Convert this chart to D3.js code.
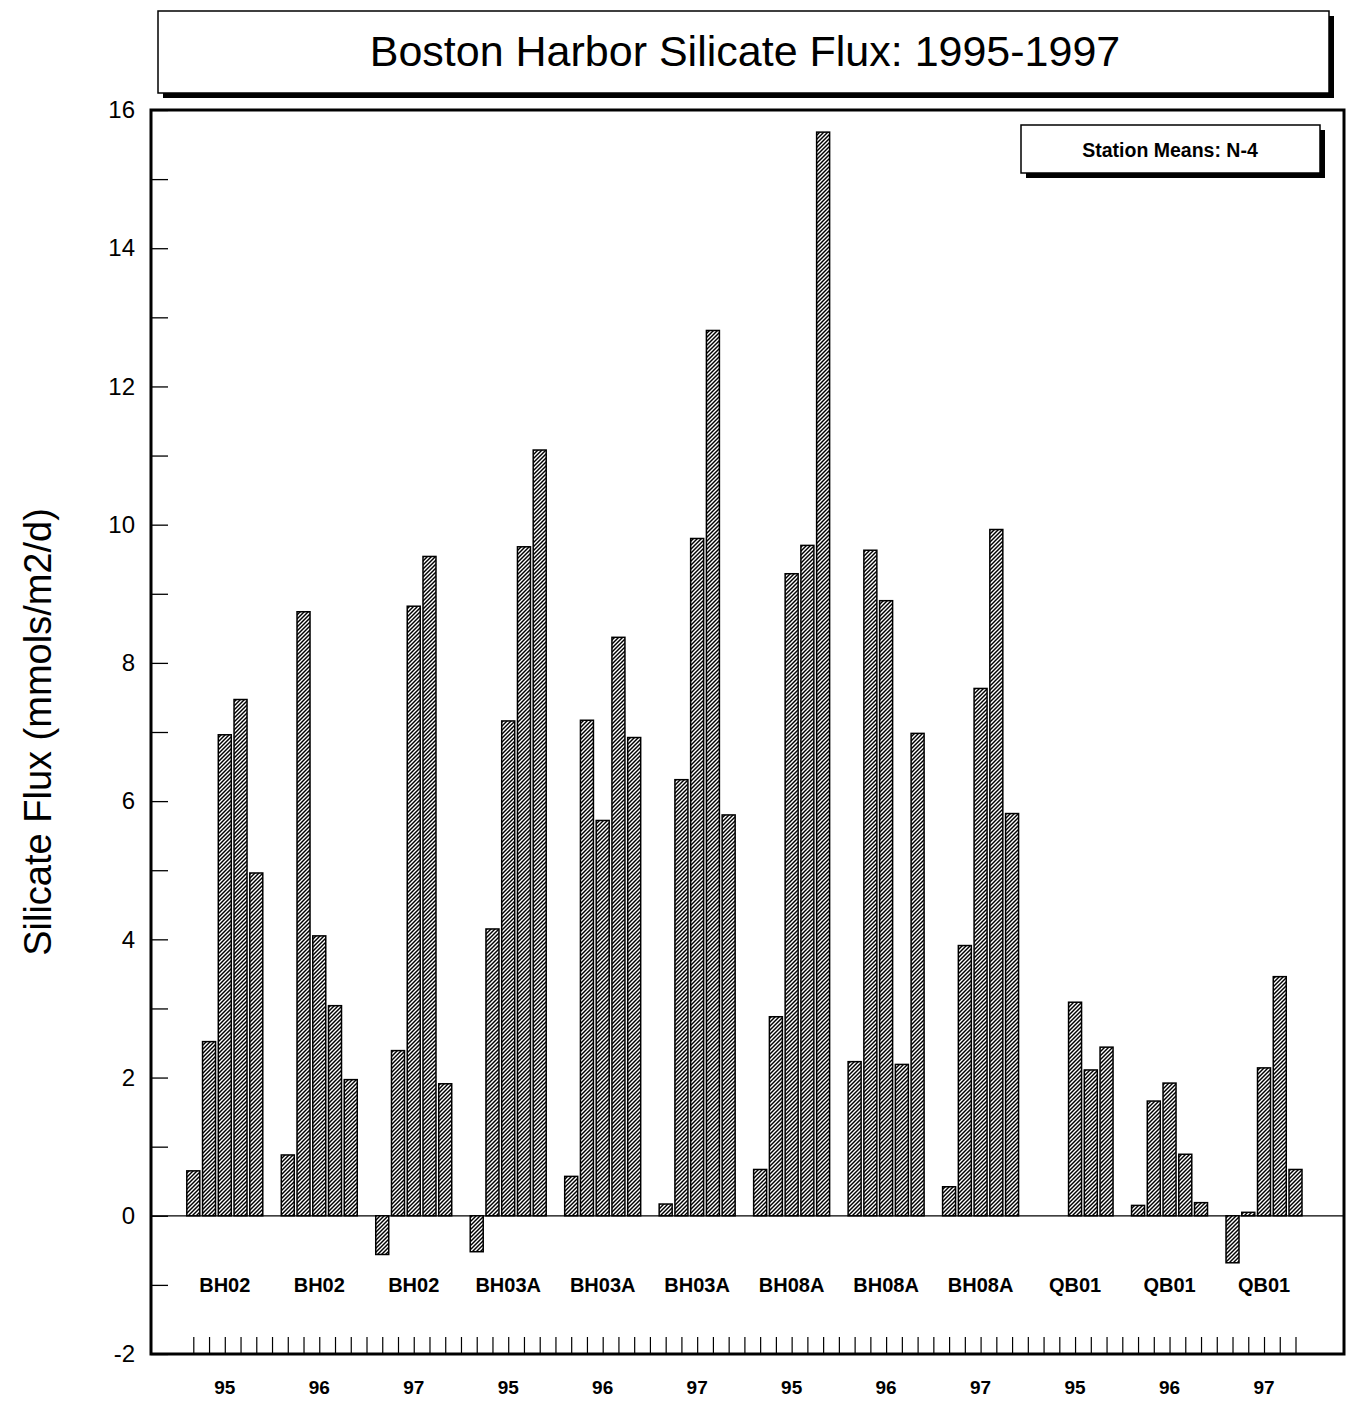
<!DOCTYPE html>
<html lang="en">
<head>
  <meta charset="UTF-8">
  <title>Boston Harbor Silicate Flux</title>
  <style>
    body { margin: 0; background: #fff; }
    text { font-family: "Liberation Sans", Arial, sans-serif; fill: #000; }
  </style>
</head>
<body>
  <script src="https://cdn.jsdelivr.net/npm/d3@7"></script>
  <script>
    // groups: station + year, five samples each
    let stations = ['BH02', 'BH02', 'BH02', 'BH03A', 'BH03A', 'BH03A',
                    'BH08A', 'BH08A', 'BH08A', 'QB01', 'QB01', 'QB01'];
    let years = ['95', '96', '97', '95', '96', '97', '95', '96', '97', '95', '96', '97'];
    let bh02_95 = [0.65, 2.52, 6.96, 7.47, 4.96];
    let bh02_96 = [0.88, 8.74, 4.05, 3.04, 1.97];
    let bh02_97 = [-0.56, 2.39, 8.82, 9.54, 1.91];
    let bh03a_95 = [-0.52, 4.15, 7.16, 9.68, 11.08];
    let bh03a_96 = [0.57, 7.17, 5.72, 8.37, 6.92];
    let bh03a_97 = [0.17, 6.31, 9.80, 12.81, 5.80];
    let bh08a_95 = [0.67, 2.88, 9.29, 9.70, 15.68];
    let bh08a_96 = [2.23, 9.63, 8.90, 2.19, 6.98];
    let bh08a_97 = [0.42, 3.91, 7.63, 9.93, 5.82];
    let qb01_95 = [null, null, 3.09, 2.11, 2.44];
    let qb01_96 = [0.15, 1.66, 1.92, 0.89, 0.19];
    let qb01_97 = [-0.68, 0.05, 2.14, 3.46, 0.67];
    let groups = [bh02_95, bh02_96, bh02_97, bh03a_95, bh03a_96, bh03a_97,
                  bh08a_95, bh08a_96, bh08a_97, qb01_95, qb01_96, qb01_97];
    let yTicks = d3.range(-2, 17, 1);

    let width = 1353;
    let height = 1402;
    let svg = d3.select('body')
                .append('svg')
                .attr('width', width)
                .attr('height', height);

    // hatch pattern for the bars
    svg.append('defs')
       .append('pattern')
       .attr('id', 'hatch')
       .attr('patternUnits', 'userSpaceOnUse')
       .attr('width', 4)
       .attr('height', 4)
       .call(p => {
         p.append('rect').attr('width', 4).attr('height', 4).attr('fill', '#fff');
         p.append('path')
          .attr('d', 'M-1,1 l2,-2 M0,4 l4,-4 M3,5 l2,-2')
          .attr('stroke', '#000')
          .attr('stroke-width', 1.45);
       });

    let plotLeft = 151, plotRight = 1344, plotTop = 110, plotBottom = 1354;

    // slots: 5 bars + 1 gap per group, last group without gap
    let nSlots = groups.length * 6 - 1;
    let x = d3.scaleLinear().domain([0, nSlots - 1]).range([193.3, 1295.5]);
    let y = d3.scaleLinear().domain([-2, 16]).range([plotBottom, plotTop]);

    // box with a drop shadow
    function shadowBox(x0, y0, w, h, off) {
      svg.append('rect').attr('x', x0 + off).attr('y', y0 + off)
         .attr('width', w).attr('height', h).attr('fill', '#000');
      svg.append('rect').attr('x', x0).attr('y', y0)
         .attr('width', w).attr('height', h)
         .attr('fill', '#fff').attr('stroke', '#000').attr('stroke-width', 1.5);
    }
    shadowBox(158, 11, 1171, 82, 5);
    svg.append('text')
       .attr('x', 745).attr('y', 51)
       .attr('text-anchor', 'middle').attr('dominant-baseline', 'central')
       .attr('font-size', 43)
       .text('Boston Harbor Silicate Flux: 1995-1997');

    // plot frame
    svg.append('rect')
       .attr('x', plotLeft).attr('y', plotTop)
       .attr('width', plotRight - plotLeft).attr('height', plotBottom - plotTop)
       .attr('fill', 'none').attr('stroke', '#000').attr('stroke-width', 3);

    // y axis: ticks inside, labels outside
    let yAxis = d3.axisLeft(y)
                  .tickValues(yTicks)
                  .tickSizeInner(-17)
                  .tickSizeOuter(0)
                  .tickPadding(16)
                  .tickFormat(d => d % 2 === 0 ? d : '');
    svg.append('g')
       .attr('transform', `translate(${plotLeft}, 0)`)
       .call(yAxis)
       .call(g => g.select('.domain').remove())
       .call(g => g.selectAll('line').attr('stroke-width', 1.3))
       .call(g => g.selectAll('text')
                   .attr('font-size', 24)
                   .attr('font-family', '"Liberation Sans", Arial, sans-serif'));

    // bottom ticks, one per slot, pointing up
    let xAxis = d3.axisTop(x)
                  .tickValues(d3.range(nSlots))
                  .tickSizeInner(17)
                  .tickSizeOuter(0)
                  .tickFormat('');
    svg.append('g')
       .attr('transform', `translate(0, ${plotBottom})`)
       .call(xAxis)
       .call(g => g.select('.domain').remove())
       .call(g => g.selectAll('line').attr('stroke-width', 1.2));

    // zero line
    svg.append('line')
       .attr('x1', plotLeft).attr('x2', plotRight)
       .attr('y1', y(0)).attr('y2', y(0))
       .attr('stroke', '#000').attr('stroke-width', 1.3);

    // bars
    let bars = [];
    groups.forEach((vals, g) => {
      vals.forEach((v, b) => {
        if (v !== null) bars.push({ slot: g * 6 + b, value: v });
      });
    });
    let barWidth = 13;
    svg.selectAll('rect.bar')
       .data(bars)
       .enter()
       .append('rect')
       .attr('class', 'bar')
       .attr('x', d => x(d.slot) - barWidth / 2)
       .attr('y', d => y(Math.max(0, d.value)))
       .attr('width', barWidth)
       .attr('height', d => Math.abs(y(d.value) - y(0)))
       .attr('fill', 'url(#hatch)')
       .attr('stroke', '#000')
       .attr('stroke-width', 1.5);

    // station and year labels under each group
    svg.selectAll('text.station')
       .data(stations)
       .enter()
       .append('text')
       .attr('class', 'station')
       .attr('x', (d, i) => x(i * 6 + 2))
       .attr('y', 1285)
       .attr('text-anchor', 'middle').attr('dominant-baseline', 'central')
       .attr('font-size', 20).attr('font-weight', 'bold')
       .text(d => d);
    svg.selectAll('text.year')
       .data(years)
       .enter()
       .append('text')
       .attr('class', 'year')
       .attr('x', (d, i) => x(i * 6 + 2))
       .attr('y', 1387)
       .attr('text-anchor', 'middle').attr('dominant-baseline', 'central')
       .attr('font-size', 19).attr('font-weight', 'bold')
       .text(d => d);

    // legend box
    shadowBox(1021, 125, 299, 48, 5);
    svg.append('text')
       .attr('x', 1170).attr('y', 150)
       .attr('text-anchor', 'middle').attr('dominant-baseline', 'central')
       .attr('font-size', 19.5).attr('font-weight', 'bold')
       .text('Station Means: N-4');

    // y axis title
    svg.append('text')
       .attr('transform', 'translate(38, 732) rotate(-90)')
       .attr('text-anchor', 'middle').attr('dominant-baseline', 'central')
       .attr('font-size', 38)
       .text('Silicate Flux (mmols/m2/d)');
  </script>
</body>
</html>
